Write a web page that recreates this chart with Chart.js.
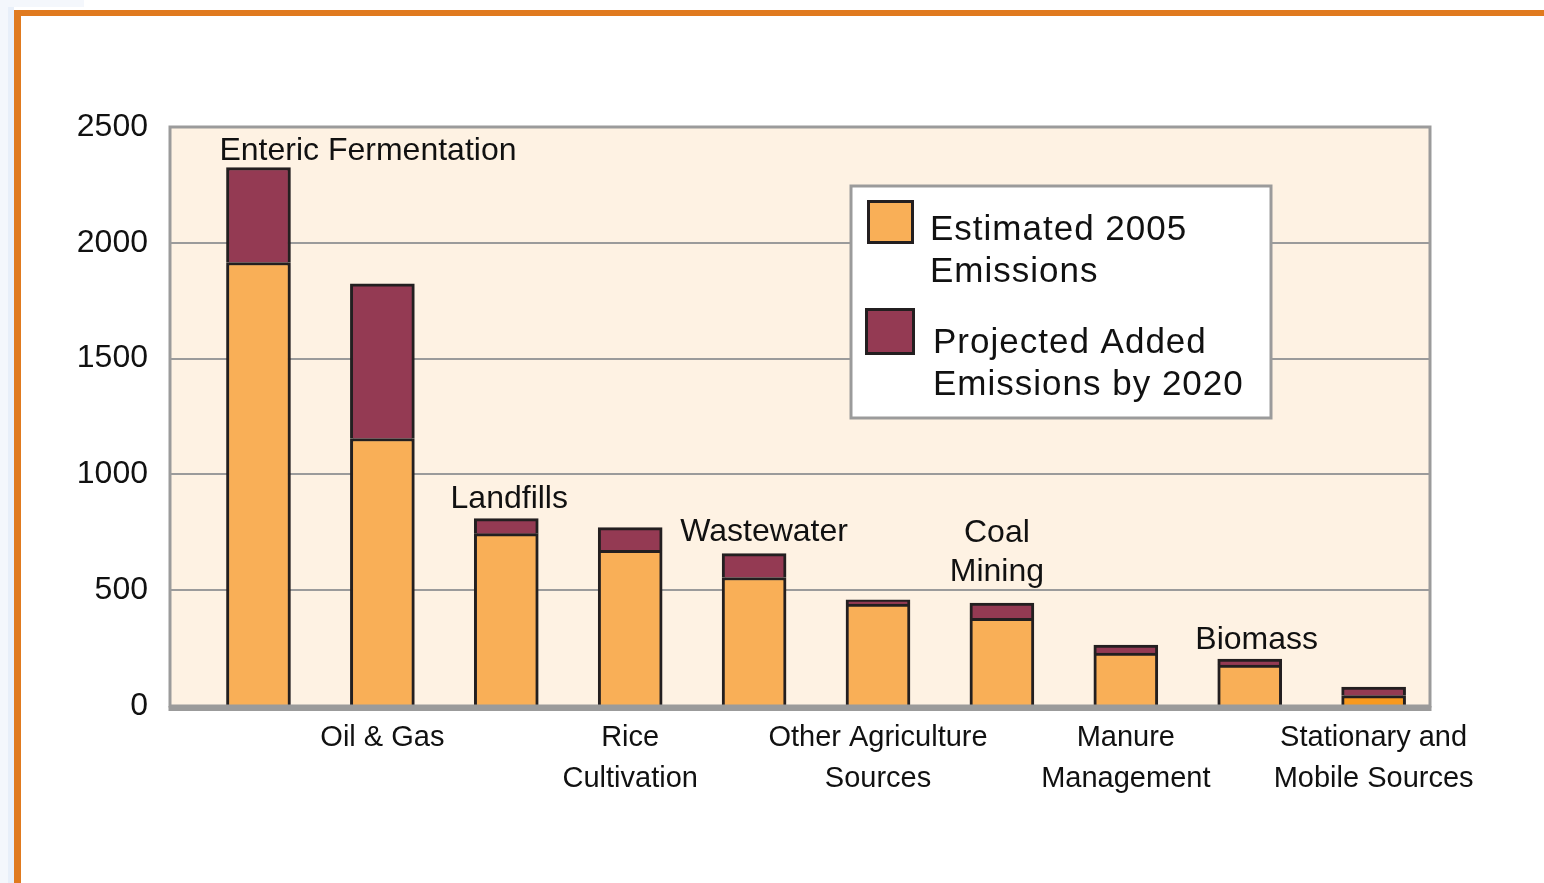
<!DOCTYPE html>
<html><head><meta charset="utf-8">
<script src="https://cdn.jsdelivr.net/npm/chart.js@4.4.1/dist/chart.umd.min.js"></script>
<style>
html,body{margin:0;padding:0;background:#fff;width:1544px;height:883px;overflow:hidden;position:relative}
#stripA{position:absolute;left:0;top:0;width:8px;height:883px;background:#F4F7FC}
#stripB{position:absolute;left:8px;top:0;width:6px;height:883px;background:#E8EFF9}
#stripC{position:absolute;left:0;top:0;width:84px;height:7px;background:#F4F7FC}
#obTop{position:absolute;left:14px;top:10px;width:1530px;height:6px;background:#E07A1F}
#obLeft{position:absolute;left:14px;top:10px;width:7px;height:873px;background:#E07A1F}
#c{position:absolute;left:0;top:0}
</style></head>
<body>
<div id="stripA"></div><div id="stripB"></div><div id="stripC"></div>
<div id="obTop"></div><div id="obLeft"></div>
<canvas id="c" width="1544" height="883"></canvas>
<script>
// ---- data ----
const categories = [
  ['Enteric Fermentation'], ['Oil & Gas'], ['Landfills'], ['Rice', 'Cultivation'],
  ['Wastewater'], ['Other Agriculture', 'Sources'], ['Coal', 'Mining'],
  ['Manure', 'Management'], ['Biomass'], ['Stationary and', 'Mobile Sources']
];
const estimated2005 = [1915, 1155, 744, 672, 555, 440, 379, 228, 177, 45];
const projectedAdded2020 = [410, 668, 65, 98, 103, 18, 65, 35, 26, 37];
const yTickValues = [0, 500, 1000, 1500, 2000, 2500];
const seriesNames = [['Estimated 2005', 'Emissions'], ['Projected Added', 'Emissions by 2020']];

// ---- layout / style (not data) ----
// labels drawn above bars: index, dx from bar centre, dy of last line from bar top, alignment
const aboveLayout = {
  0: {dx: -39, dy: -16, align: 'left'},
  2: {dx: 3, dy: -19, align: 'center'},
  4: {dx: 10, dy: -21, align: 'center'},
  6: {dx: -5, dy: -31, align: 'center'},
  8: {dx: 7, dy: -19, align: 'center'}
};
const ORANGE = '#F9AF57', ORANGE_LAST = '#F7991F', MAROON = '#943A53', EDGE = '#231F20', GRID = '#9B9B9B';

function fontAvailable(name) {
  const c = document.createElement('canvas').getContext('2d');
  const s = 'Oil & Gas Management Wastewater';
  c.font = '40px monospace';
  const a = c.measureText(s).width;
  c.font = '40px "' + name + '", monospace';
  const b = c.measureText(s).width;
  return Math.abs(a - b) > 0.5;
}
const NARROW = fontAvailable('Liberation Sans Narrow');
const catFont = NARROW ? {family: '"Liberation Sans Narrow", sans-serif', size: 35, lineHeight: 1.17}
                       : {family: '"Liberation Sans", Arial, sans-serif', size: 29, lineHeight: 1.42};
const aboveFont = NARROW ? '38px "Liberation Sans Narrow", sans-serif' : '32px "Liberation Sans", Arial, sans-serif';

const framePlugin = {
  id: 'frame',
  beforeDraw(chart) {
    const {ctx, chartArea: a} = chart;
    ctx.save();
    ctx.fillStyle = '#FEF2E3';
    ctx.fillRect(a.left, a.top, a.right - a.left, a.bottom - a.top);
    ctx.restore();
  },
  afterDatasetsDraw(chart) {
    const {ctx, chartArea: a} = chart;
    ctx.save();
    ctx.strokeStyle = GRID;
    ctx.lineWidth = 3;
    ctx.strokeRect(a.left, a.top, a.right - a.left, a.bottom - a.top);
    ctx.fillStyle = GRID;
    ctx.fillRect(a.left - 1.5, a.bottom, a.right - a.left + 3, 5);

    // labels above bars
    const meta = chart.getDatasetMeta(1);
    ctx.fillStyle = '#111';
    ctx.font = aboveFont;
    ctx.textBaseline = 'middle';
    Object.keys(aboveLayout).forEach(k => {
      const i = +k, L = aboveLayout[k], el = meta.data[i];
      const lines = categories[i];
      ctx.textAlign = L.align;
      lines.forEach((t, j) => {
        ctx.fillText(t, el.x + L.dx, el.y + L.dy - (lines.length - 1 - j) * 39);
      });
    });

    // legend box
    const lx = a.left + 681, ly = a.top + 59, lw = 420, lh = 232;
    ctx.fillStyle = '#fff';
    ctx.fillRect(lx, ly, lw, lh);
    ctx.strokeStyle = GRID; ctx.lineWidth = 3;
    ctx.strokeRect(lx, ly, lw, lh);
    const sw = [{x: 16, y: 14, w: 47, h: 44}, {x: 14, y: 122, w: 50, h: 47}];
    const tx = [79, 82], ty = [44, 157];
    chart.data.datasets.forEach((ds, d) => {
      const s = sw[d];
      ctx.fillStyle = d === 0 ? ORANGE : MAROON;
      ctx.fillRect(lx + s.x, ly + s.y, s.w, s.h);
      ctx.strokeStyle = EDGE; ctx.lineWidth = 3;
      ctx.strokeRect(lx + s.x + 1.5, ly + s.y + 1.5, s.w - 3, s.h - 3);
      ctx.fillStyle = '#111';
      ctx.font = '35px "Liberation Sans", Arial, sans-serif';
      if ('letterSpacing' in ctx) ctx.letterSpacing = '1px';
      ctx.textAlign = 'left'; ctx.textBaseline = 'middle';
      seriesNames[d].forEach((t, j) => ctx.fillText(t, lx + tx[d], ly + ty[d] + j * 42));
      if ('letterSpacing' in ctx) ctx.letterSpacing = '0px';
    });
    ctx.restore();
  }
};

const mk = (vals) => categories.map((c, i) => ({x: i + 1, y: vals[i]}));

new Chart(document.getElementById('c'), {
  type: 'bar',
  data: {
    datasets: [
      {label: seriesNames[0].join(' '), data: mk(estimated2005),
       backgroundColor: categories.map((c, i) => i === categories.length - 1 ? ORANGE_LAST : ORANGE),
       borderColor: EDGE, borderWidth: 3, borderSkipped: 'start', barThickness: 64},
      {label: seriesNames[1].join(' '), data: mk(projectedAdded2020),
       backgroundColor: MAROON, borderColor: EDGE, borderWidth: 3, borderSkipped: 'start', barThickness: 64}
    ]
  },
  options: {
    responsive: false, animation: false,
    layout: {padding: {top: 127, right: 114, bottom: 0, left: 0}},
    plugins: {legend: {display: false}, tooltip: {enabled: false}},
    scales: {
      x: {
        type: 'linear', stacked: true, offset: false, min: 0.286, max: 10.455,
        grid: {display: false, drawTicks: false}, border: {display: false},
        afterBuildTicks: s => { s.ticks = categories.map((c, i) => ({value: i + 1})); },
        afterFit: s => { s.height = 883 - 706; },
        ticks: {autoSkip: false, maxRotation: 0, minRotation: 0, padding: 11, color: '#111', font: catFont,
          callback: (v) => { const i = Math.round(v) - 1; return i % 2 === 1 ? categories[i] : ''; }}
      },
      y: {
        stacked: true, min: 0, max: 2500,
        afterBuildTicks: s => { s.ticks = yTickValues.map(v => ({value: v})); },
        afterFit: s => { s.width = 170; },
        grid: {color: GRID, lineWidth: 2, drawTicks: false}, border: {display: false},
        ticks: {padding: 22, color: '#111', font: {family: '"Liberation Sans", Arial, sans-serif', size: 32},
          callback: v => String(v)}
      }
    }
  },
  plugins: [framePlugin]
});
</script>
</body></html>
